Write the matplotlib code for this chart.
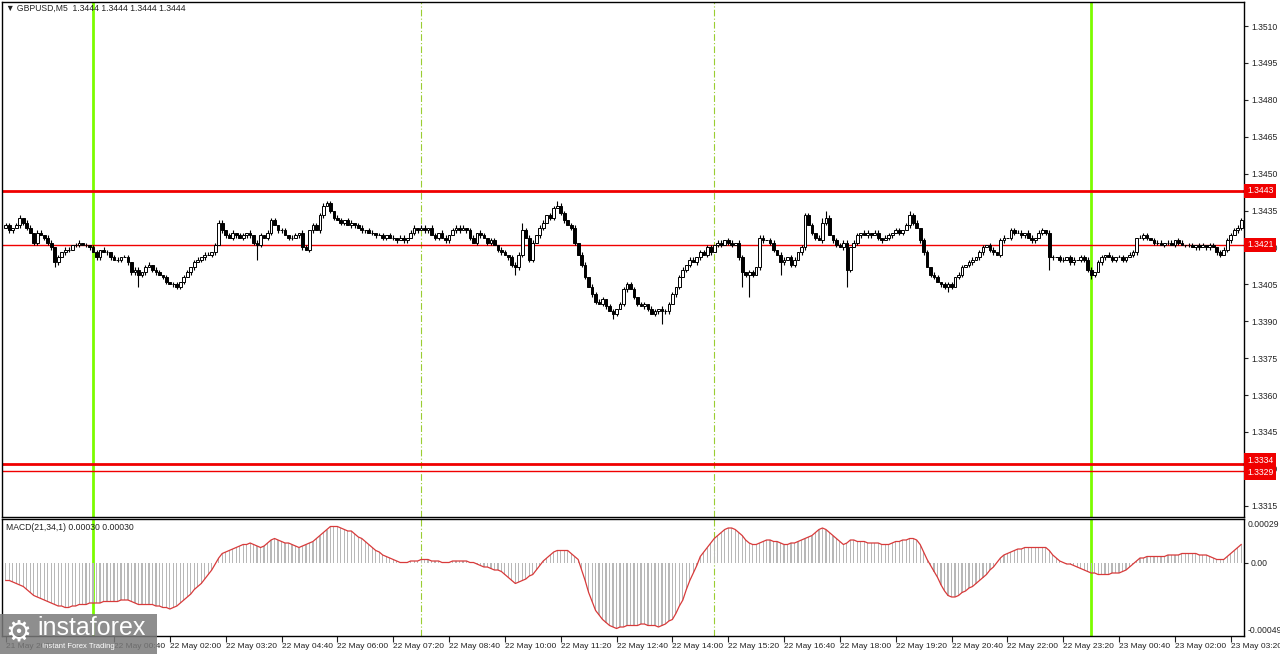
import numpy as np
import matplotlib.pyplot as plt
from matplotlib.patches import Rectangle

# GBPUSD M5, close prices in pips above 1.3400
closes = [
    29, 27, 28, 29, 32, 30, 28, 26, 22, 26,
    25, 24, 22, 20, 14, 16, 18, 19, 19, 21,
    21, 22, 21, 21, 20, 18, 16, 19, 18, 18,
    16, 15, 15, 16, 16, 14, 10, 11, 9, 10,
    12, 13, 11, 10, 9, 8, 6, 5, 5, 4,
    6, 8, 10, 12, 14, 15, 16, 17, 17, 18,
    21, 30, 27, 25, 24, 26, 25, 24, 25, 26,
    25, 22, 21, 25, 24, 26, 31, 29, 27, 27,
    25, 24, 24, 25, 26, 20, 19, 27, 29, 27,
    33, 37, 38, 35, 32, 31, 30, 31, 29, 30,
    29, 28, 27, 27, 26, 26, 25, 25, 24, 25,
    24, 24, 23, 24, 23, 24, 26, 28, 27, 28,
    27, 28, 25, 24, 26, 24, 23, 25, 27, 28,
    27, 28, 27, 24, 22, 26, 25, 24, 22, 23,
    21, 19, 18, 17, 16, 13, 12, 17, 27, 24,
    15, 22, 25, 28, 30, 33, 32, 36, 37, 34,
    31, 29, 28, 22, 17, 13, 8, 4, 1, -2,
    -3, -1, -4, -6, -7, -5, -3, 3, 5, 3,
    0, -3, -4, -3, -5, -7, -6, -5, -6, -6,
    -3, 1, 4, 8, 11, 13, 15, 14, 16, 18,
    17, 20, 18, 21, 22, 21, 23, 22, 21, 22,
    16, 10, 9, 10, 9, 12, 24, 23, 23, 22,
    19, 17, 14, 15, 16, 13, 15, 18, 20, 33,
    29, 26, 24, 23, 30, 32, 25, 23, 21, 20,
    22, 11, 20, 22, 25, 26, 25, 26, 25, 26,
    24, 23, 24, 25, 26, 27, 26, 27, 29, 33,
    30, 28, 23, 18, 12, 9, 8, 6, 5, 4,
    5, 4, 8, 9, 12, 13, 14, 15, 16, 18,
    20, 21, 19, 18, 17, 23, 24, 24, 27, 26,
    26, 25, 26, 24, 23, 24, 26, 27, 26, 16,
    16, 16, 15, 15, 16, 14, 15, 15, 16, 15,
    11, 9, 10, 14, 16, 17, 16, 15, 16, 16,
    15, 16, 17, 18, 24, 24, 25, 24, 23, 22,
    22, 21, 22, 22, 21, 23, 22, 21, 21, 21,
    20, 21, 20, 21, 20, 21, 20, 18, 17, 19,
    23, 25, 27, 28, 31,
]
open_first = 28

# wick lengths in pips above / below the body
up_wick = [
    1, 1, 0, 1, 1, 0, 1, 1, 0, 1,
    1, 0, 1, 1, 0, 1, 0, 1, 1, 0,
    1, 1, 0, 1, 0, 1, 1, 0, 1, 1,
    0, 1, 1, 0, 1, 1, 0, 1, 1, 0,
    1, 1, 0, 1, 1, 0, 1, 0, 1, 1,
    0, 1, 1, 0, 1, 1, 0, 1, 1, 0,
    1, 1, 1, 0, 1, 1, 0, 1, 1, 0,
    1, 0, 1, 1, 0, 1, 1, 1, 0, 1,
    1, 0, 1, 1, 0, 1, 1, 0, 1, 1,
    1, 1, 1, 1, 0, 1, 1, 0, 1, 1,
    0, 1, 1, 0, 1, 1, 0, 1, 1, 0,
    1, 1, 0, 1, 1, 0, 1, 1, 0, 1,
    1, 0, 1, 1, 0, 1, 1, 0, 1, 1,
    1, 1, 0, 1, 1, 0, 1, 1, 0, 1,
    1, 0, 1, 1, 0, 1, 1, 1, 3, 1,
    1, 1, 0, 1, 1, 0, 1, 1, 2, 1,
    1, 0, 1, 1, 0, 1, 1, 0, 1, 1,
    1, 1, 0, 1, 1, 0, 1, 1, 1, 1,
    1, 0, 1, 1, 0, 1, 1, 0, 1, 1,
    1, 1, 0, 1, 1, 0, 1, 1, 0, 1,
    1, 1, 1, 0, 1, 1, 0, 1, 1, 0,
    1, 1, 0, 1, 1, 0, 1, 1, 0, 1,
    1, 0, 1, 1, 0, 1, 1, 0, 1, 1,
    1, 1, 0, 1, 2, 3, 1, 0, 1, 1,
    1, 1, 0, 1, 1, 0, 1, 1, 0, 1,
    1, 0, 1, 1, 0, 1, 1, 0, 1, 2,
    1, 1, 0, 1, 1, 0, 1, 1, 0, 1,
    1, 1, 0, 1, 1, 0, 1, 1, 0, 1,
    1, 0, 1, 1, 0, 1, 1, 0, 1, 1,
    1, 1, 0, 1, 1, 0, 1, 1, 0, 1,
    1, 0, 1, 1, 0, 1, 1, 0, 1, 1,
    1, 1, 0, 1, 1, 0, 1, 1, 0, 1,
    1, 0, 1, 1, 0, 1, 1, 1, 0, 1,
    1, 1, 0, 1, 1, 0, 1, 1, 0, 1,
    1, 0, 1, 1, 0, 1, 1, 0, 1, 1,
    1, 1, 1, 1, 1,
]
dn_wick = [
    0, 1, 1, 0, 1, 1, 1, 0, 1, 1,
    0, 1, 1, 1, 2, 1, 0, 1, 1, 0,
    1, 1, 0, 1, 1, 0, 1, 1, 0, 1,
    1, 0, 1, 1, 0, 1, 1, 1, 5, 1,
    1, 0, 1, 1, 0, 1, 1, 0, 1, 1,
    1, 1, 0, 1, 1, 0, 1, 1, 0, 1,
    1, 0, 1, 1, 0, 1, 1, 0, 1, 1,
    1, 1, 6, 1, 0, 1, 1, 0, 1, 1,
    0, 1, 1, 0, 1, 1, 0, 1, 1, 0,
    1, 1, 0, 1, 1, 0, 1, 1, 0, 1,
    1, 0, 1, 1, 0, 1, 1, 0, 1, 1,
    0, 1, 1, 0, 1, 1, 0, 1, 1, 0,
    1, 1, 0, 1, 1, 0, 1, 1, 0, 1,
    1, 0, 1, 1, 0, 1, 1, 0, 1, 1,
    0, 1, 1, 0, 1, 1, 3, 1, 1, 0,
    1, 1, 0, 1, 1, 0, 1, 1, 0, 1,
    1, 0, 1, 1, 0, 1, 1, 0, 1, 1,
    0, 1, 1, 0, 2, 1, 0, 1, 1, 0,
    1, 1, 0, 1, 1, 0, 1, 1, 5, 1,
    1, 0, 1, 1, 0, 1, 1, 0, 1, 1,
    0, 1, 1, 0, 1, 1, 0, 1, 1, 0,
    1, 6, 1, 9, 1, 0, 1, 1, 0, 1,
    1, 0, 5, 1, 0, 1, 1, 0, 1, 1,
    0, 1, 1, 0, 1, 1, 0, 1, 1, 0,
    1, 7, 1, 0, 1, 1, 0, 1, 1, 0,
    1, 1, 0, 1, 1, 0, 1, 1, 0, 1,
    1, 0, 1, 1, 0, 1, 1, 0, 1, 1,
    2, 1, 0, 1, 1, 0, 1, 1, 0, 1,
    1, 0, 1, 1, 0, 1, 1, 0, 1, 1,
    0, 1, 1, 0, 1, 1, 0, 1, 1, 5,
    1, 0, 1, 1, 0, 1, 1, 0, 1, 1,
    1, 2, 1, 0, 1, 1, 0, 1, 1, 0,
    1, 1, 0, 1, 1, 0, 1, 1, 0, 1,
    1, 0, 1, 1, 0, 1, 1, 0, 1, 1,
    0, 1, 1, 0, 1, 1, 0, 1, 1, 0,
    1, 1, 0, 1, 1,
]

# MACD(21,34,1) main value, units of 1e-5
macd = [
    -12, -12, -13, -14, -15, -16, -18, -20, -22, -23,
    -24, -25, -26, -27, -28, -29, -29, -30, -30, -29,
    -29, -28, -28, -28, -27, -27, -27, -27, -26, -26,
    -26, -26, -26, -25, -25, -25, -26, -27, -28, -28,
    -28, -28, -28, -29, -29, -30, -30, -31, -30, -29,
    -27, -25, -23, -21, -18, -16, -14, -11, -8, -5,
    -1, 3, 6, 7, 8, 9, 10, 11, 12, 12,
    13, 12, 11, 10, 11, 13, 15, 16, 15, 14,
    13, 13, 12, 11, 10, 11, 12, 13, 14, 16,
    18, 20, 22, 24, 24, 24, 23, 22, 21, 21,
    19, 17, 16, 14, 12, 10, 8, 7, 5, 4,
    3, 2, 1, 0, 0, 0, 1, 1, 1, 2,
    2, 2, 1, 1, 1, 0, 0, 0, 1, 1,
    1, 1, 1, 0, 0, -1, -2, -3, -3, -4,
    -5, -5, -6, -8, -10, -12, -14, -13, -12, -11,
    -9, -8, -5, -2, 1, 3, 5, 7, 8, 8,
    8, 8, 6, 4, 2, -5, -12, -20, -26, -32,
    -35, -38, -40, -42, -43, -44, -43, -43, -42, -42,
    -42, -42, -41, -41, -42, -42, -42, -43, -42, -41,
    -39, -38, -34, -29, -25, -18, -12, -7, -2, 4,
    7, 10, 13, 16, 18, 20, 22, 23, 23, 22,
    20, 18, 15, 13, 12, 12, 13, 14, 15, 15,
    14, 14, 13, 12, 12, 13, 13, 14, 15, 16,
    17, 18, 20, 22, 23, 22, 20, 18, 16, 14,
    12, 13, 15, 15, 14, 14, 14, 13, 13, 13,
    13, 12, 12, 12, 13, 14, 14, 15, 15, 16,
    16, 15, 12, 7, 2, -2, -6, -10, -15, -19,
    -22, -23, -23, -22, -20, -19, -17, -16, -14, -12,
    -10, -8, -5, -3, 0, 3, 5, 6, 7, 8,
    9, 9, 10, 10, 10, 10, 10, 10, 10, 8,
    5, 3, 1, 0, -1, -1, -2, -3, -4, -5,
    -6, -7, -7, -8, -8, -8, -8, -7, -7, -7,
    -6, -5, -3, -1, 1, 3, 3, 4, 4, 4,
    4, 4, 4, 5, 5, 5, 5, 6, 6, 6,
    6, 6, 5, 5, 5, 4, 3, 2, 2, 2,
    4, 6, 8, 10, 12,
]

levels_thick = [1.3443, 1.3332]
levels_thin = [1.3421, 1.3329]
level_labels = [(1.3443, '1.3443'), (1.3421, '1.3421'), (1.33335, '1.3334'), (1.33285, '1.3329')]
vlines_solid = [25, 311]
vlines_dash = [119, 203]
price_ticks = [1.3315, 1.3330, 1.3345, 1.3360, 1.3375, 1.3390, 1.3405, 1.3420,
               1.3435, 1.3450, 1.3465, 1.3480, 1.3495, 1.3510]
time_pos = [0, 31, 47, 63, 79, 95, 111, 127, 143, 159, 175, 191, 207, 223,
            239, 255, 271, 287, 303, 319, 335, 351]
time_labels = ['21 May 2025', '22 May 00:40', '22 May 02:00', '22 May 03:20', '22 May 04:40',
               '22 May 06:00', '22 May 07:20', '22 May 08:40', '22 May 10:00',
               '22 May 11:20', '22 May 12:40', '22 May 14:00', '22 May 15:20',
               '22 May 16:40', '22 May 18:00', '22 May 19:20', '22 May 20:40',
               '22 May 22:00', '22 May 23:20', '23 May 00:40', '23 May 02:00',
               '23 May 03:20']

plt.rcParams['font.family'] = ['Liberation Sans', 'DejaVu Sans']
fs = 6.2
tc = '#222222'

n = len(closes)
x = np.arange(n)
c = 1.34 + np.array(closes) / 10000
o = np.r_[1.34 + open_first / 10000, c[:-1]]
top = np.maximum(o, c)
bot = np.minimum(o, c)
hi = top + np.array(up_wick) / 10000
lo = bot - np.array(dn_wick) / 10000
bull = c >= o

fig = plt.figure(figsize=(12.8, 6.54), dpi=100, facecolor='white')
ax = fig.add_axes([2 / 1280, 1 - 517 / 654, 1242 / 1280, 515 / 654])
ax2 = fig.add_axes([2 / 1280, 1 - 636 / 654, 1242 / 1280, 117 / 654])
xlim = (-1.1, 354.8)

# main price panel
ax.vlines(x, lo, hi, color='black', lw=0.8, zorder=3)
ax.bar(x[bull], (top - bot)[bull], bottom=bot[bull], width=0.78,
       color='white', edgecolor='black', lw=0.7, zorder=4)
ax.bar(x[~bull], (top - bot)[~bull], bottom=bot[~bull], width=0.78,
       color='black', edgecolor='black', lw=0.7, zorder=4)
for lv in levels_thick:
    ax.axhline(lv, color='#f00000', lw=2, zorder=2)
for lv in levels_thin:
    ax.axhline(lv, color='#f00000', lw=1, zorder=2)
for axx in (ax, ax2):
    for v in vlines_solid:
        axx.axvline(v, color='#7cfc00', lw=2, zorder=1)
    for v in vlines_dash:
        axx.axvline(v, color='#9acd32', lw=0.8, ls=(0, (6, 2, 1, 2)), zorder=1)

ax.set_xlim(xlim)
ax.set_ylim(1.33104, 1.35198)
ax.set_xticks([])
ax.yaxis.tick_right()
ax.set_yticks(price_ticks)
ax.set_yticklabels(['%.4f' % t for t in price_ticks])
ax.tick_params(axis='y', length=3, pad=2, labelsize=fs, colors=tc)
for lv, txt in level_labels:
    ax.text(1.0025, lv, txt, transform=ax.get_yaxis_transform(), ha='left', va='center',
            fontsize=fs, color='white', clip_on=False, zorder=6,
            bbox=dict(boxstyle='square,pad=0.32', fc='#f00000', ec='none'))

# MACD panel
m = np.array(macd) / 100000
ax2.bar(x, m, width=0.35, color='#b8b8b8', edgecolor='none', zorder=2)
ax2.plot(x, m, color='#d83a3a', lw=0.9, zorder=3)
ax2.set_xlim(xlim)
ax2.set_ylim(-0.00049, 0.00029)
ax2.yaxis.tick_right()
ax2.set_yticks([0])
ax2.set_yticklabels(['0.00'])
ax2.tick_params(axis='y', length=3, pad=2, labelsize=fs, colors=tc)
ax2.text(1.003, 0.955, '0.00029', transform=ax2.transAxes, ha='left', va='center', fontsize=fs, color=tc)
ax2.text(1.003, 0.05, '-0.00049', transform=ax2.transAxes, ha='left', va='center', fontsize=fs, color=tc)
ax2.set_xticks(time_pos)
ax2.set_xticklabels(time_labels)
ax2.tick_params(axis='x', length=4, pad=1, labelsize=6.0, colors=tc)
for lab in ax2.get_xticklabels():
    lab.set_ha('left')

for axx in (ax, ax2):
    for s in axx.spines.values():
        s.set_color('black')
        s.set_linewidth(1)

fig.text(6 / 1280, 1 - 8 / 654, '\u25bc GBPUSD,M5  1.3444 1.3444 1.3444 1.3444',
         fontsize=fs, va='center', color=tc)
fig.text(6 / 1280, 1 - 527 / 654, 'MACD(21,34,1) 0.00030 0.00030',
         fontsize=fs, va='center', color=tc)

# watermark logo
fig.patches.append(Rectangle((0, 0), 157 / 1280, 40 / 654, transform=fig.transFigure,
                             facecolor='#7a7a7a', alpha=0.85, edgecolor='none', zorder=10))
fig.text(5 / 1280, 1 - 632 / 654, '\u2699', fontsize=21, color='white', va='center',
         family=['DejaVu Sans'], zorder=11)
fig.text(37 / 1280, 1 - 628 / 654, 'instaforex', fontsize=18, color='white', va='center', zorder=11)
fig.text(42 / 1280, 1 - 647 / 654, 'Instant Forex Trading', fontsize=5.5, color='white',
         va='center', zorder=11)

plt.savefig('out.png', dpi=100, facecolor='white')
